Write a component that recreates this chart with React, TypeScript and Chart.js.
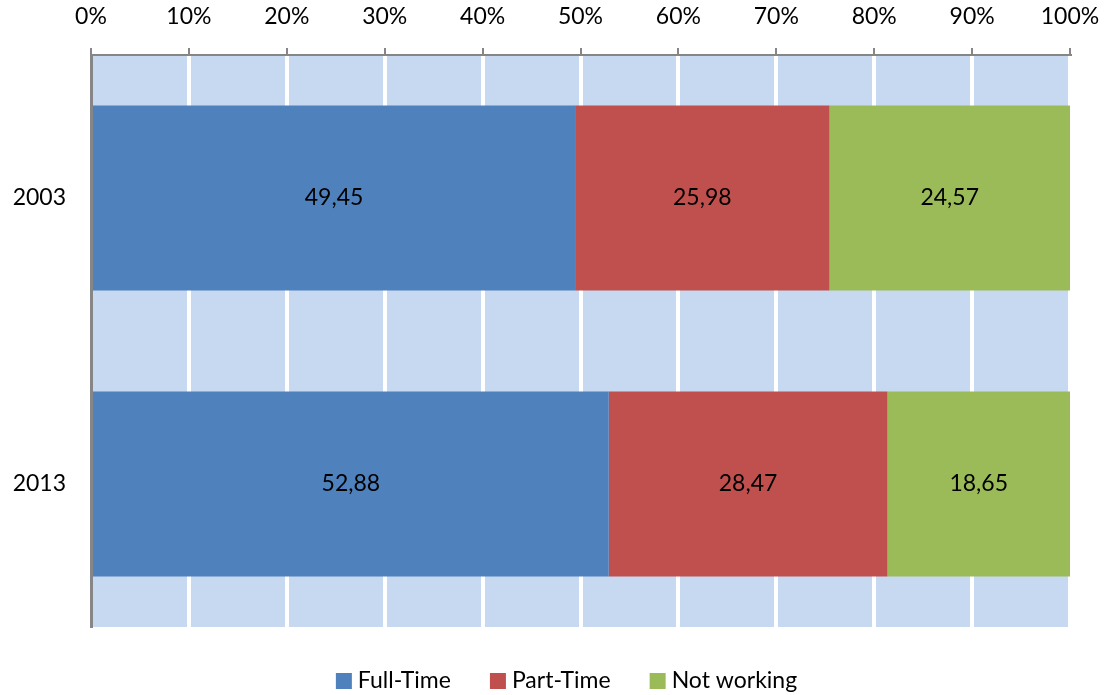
import React, { useEffect, useRef } from "react";
import { Chart, registerables } from "chart.js";

Chart.register(...registerables);

const categories = ["2003", "2013"];
const fullTime = [49.45, 52.88];
const partTime = [25.98, 28.47];
const notWorking = [24.57, 18.65];
const seriesNames = ["Full-Time", "Part-Time", "Not working"];
const seriesColors = ["#4F81BD", "#C0504D", "#9BBB59"];
const xTicks = [0, 10, 20, 30, 40, 50, 60, 70, 80, 90, 100];

const FONT = "Lato, 'Open Sans', sans-serif";
const FS = 23;

const bgPlugin = {
  id: "plotBg",
  beforeDraw(chart: any) {
    const { ctx, chartArea } = chart;
    ctx.save();
    ctx.fillStyle = "#C6D9F0";
    ctx.fillRect(chartArea.left, chartArea.top, chartArea.right - chartArea.left, chartArea.bottom - chartArea.top);
    ctx.restore();
  },
};

const labelPlugin = {
  id: "barLabels",
  afterDatasetsDraw(chart: any) {
    const { ctx } = chart;
    ctx.save();
    ctx.font = `${FS}px ${FONT}`;
    ctx.fillStyle = "#000";
    ctx.textAlign = "center";
    ctx.textBaseline = "middle";
    chart.data.datasets.forEach((ds: any, i: number) => {
      const meta = chart.getDatasetMeta(i);
      meta.data.forEach((bar: any, j: number) => {
        const v = ds.data[j];
        const cx = (bar.x + bar.base) / 2;
        ctx.fillText(v.toFixed(2).replace(".", ","), cx, bar.y);
      });
    });
    ctx.restore();
  },
};

const legendPlugin = {
  id: "customLegend",
  afterDraw(chart: any) {
    const { ctx } = chart;
    ctx.save();
    ctx.font = `${FS}px ${FONT}`;
    ctx.textBaseline = "middle";
    ctx.textAlign = "left";
    const box = 16;
    const gapBoxText = 6;
    const gapItems = 39;
    const items = chart.data.datasets.map((ds: any) => ({
      label: ds.label,
      color: ds.backgroundColor,
      w: box + gapBoxText + ctx.measureText(ds.label).width,
    }));
    const total = items.reduce((s: number, it: any) => s + it.w, 0) + gapItems * (items.length - 1);
    let x = chart.width / 2 - total / 2 + 13;
    const y = 681;
    items.forEach((it: any) => {
      ctx.fillStyle = it.color;
      ctx.fillRect(x, y - box / 2, box, box);
      ctx.fillStyle = "#000";
      ctx.fillText(it.label, x + box + gapBoxText, y);
      x += it.w + gapItems;
    });
    ctx.restore();
  },
};

export default function App() {
  const ref = useRef<HTMLCanvasElement>(null);
  useEffect(() => {
    const chart = new Chart(ref.current!, {
      type: "bar",
      data: {
        labels: categories,
        datasets: [fullTime, partTime, notWorking].map((d, i) => ({
          label: seriesNames[i],
          data: d,
          backgroundColor: seriesColors[i],
          borderWidth: 0,
          categoryPercentage: 0.647,
          barPercentage: 1,
        })),
      },
      options: {
        indexAxis: "y",
        animation: false,
        responsive: false,
        maintainAspectRatio: false,
        layout: { padding: { left: 0, right: 37, top: 0, bottom: 68 } },
        scales: {
          x: {
            position: "top",
            stacked: true,
            min: 0,
            max: 100,
            afterBuildTicks(scale: any) {
              scale.ticks = xTicks.map((v) => ({ value: v }));
            },
            afterFit(scale: any) {
              scale.height = 55;
              scale.paddingLeft = 0;
              scale.paddingRight = 0;
            },
            ticks: {
              callback: (v: any) => v + "%",
              font: { size: FS, family: FONT },
              color: "#000",
              padding: 18,
              maxRotation: 0,
              autoSkip: false,
            },
            grid: {
              color: "#FFFFFF",
              lineWidth: 4,
              drawTicks: true,
              tickLength: 7,
              tickColor: "#868686",
              tickWidth: 2,
            },
            border: { display: true, color: "#868686", width: 2 },
          },
          y: {
            stacked: true,
            afterFit(scale: any) {
              scale.width = 91;
            },
            ticks: {
              font: { size: FS, family: FONT },
              color: "#000",
              padding: 17,
            },
            grid: { display: false },
            border: { display: true, color: "#868686", width: 3 },
          },
        },
        plugins: {
          legend: { display: false },
          tooltip: { enabled: false },
        },
      } as any,
      plugins: [bgPlugin, labelPlugin, legendPlugin],
    });
    return () => chart.destroy();
  }, []);
  return (
    <div style={{ position: "absolute", left: 0, top: 0, width: 1107, height: 695, background: "#fff" }}>
      <canvas ref={ref} width={1107} height={695} />
    </div>
  );
}
